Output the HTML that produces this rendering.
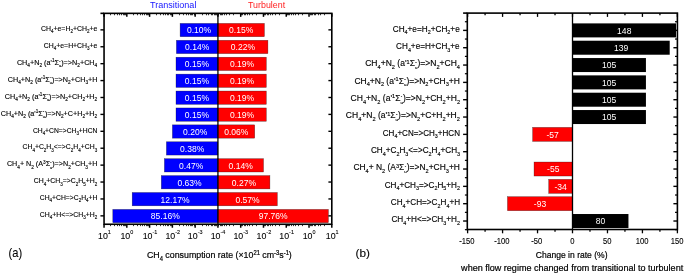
<!DOCTYPE html>
<html lang="en"><head><meta charset="utf-8"><title>CH4 consumption rate chart</title>
<style>html,body{margin:0;padding:0;background:#fff;}body{width:685px;height:274px;overflow:hidden;}svg{display:block;}text{font-family:'Liberation Sans', sans-serif;white-space:pre;}</style></head>
<body>
<svg width="685" height="274" viewBox="0 0 685 274">
<rect width="685" height="274" fill="#fff"/>
<g shape-rendering="auto">
<rect x="180.10" y="23.40" width="37.83" height="13.30" fill="#0000ff" stroke="#000" stroke-opacity="0.55" stroke-width="0.5"/>
<rect x="217.93" y="23.40" width="46.47" height="13.30" fill="#ff0000" stroke="#000" stroke-opacity="0.55" stroke-width="0.5"/>
<line x1="100.45" y1="29.85" x2="104.05" y2="29.85" stroke="#000" stroke-width="1.4" stroke-linecap="butt"/>
<line x1="328.40" y1="29.85" x2="331.80" y2="29.85" stroke="#000" stroke-width="1.4" stroke-linecap="butt"/>
<rect x="176.40" y="40.31" width="41.53" height="13.30" fill="#0000ff" stroke="#000" stroke-opacity="0.55" stroke-width="0.5"/>
<rect x="217.93" y="40.31" width="49.97" height="13.30" fill="#ff0000" stroke="#000" stroke-opacity="0.55" stroke-width="0.5"/>
<line x1="100.45" y1="46.76" x2="104.05" y2="46.76" stroke="#000" stroke-width="1.4" stroke-linecap="butt"/>
<line x1="328.40" y1="46.76" x2="331.80" y2="46.76" stroke="#000" stroke-width="1.4" stroke-linecap="butt"/>
<rect x="176.00" y="57.22" width="41.93" height="13.30" fill="#0000ff" stroke="#000" stroke-opacity="0.55" stroke-width="0.5"/>
<rect x="217.93" y="57.22" width="48.38" height="13.30" fill="#ff0000" stroke="#000" stroke-opacity="0.55" stroke-width="0.5"/>
<line x1="100.45" y1="63.67" x2="104.05" y2="63.67" stroke="#000" stroke-width="1.4" stroke-linecap="butt"/>
<line x1="328.40" y1="63.67" x2="331.80" y2="63.67" stroke="#000" stroke-width="1.4" stroke-linecap="butt"/>
<rect x="176.00" y="74.13" width="41.93" height="13.30" fill="#0000ff" stroke="#000" stroke-opacity="0.55" stroke-width="0.5"/>
<rect x="217.93" y="74.13" width="48.38" height="13.30" fill="#ff0000" stroke="#000" stroke-opacity="0.55" stroke-width="0.5"/>
<line x1="100.45" y1="80.58" x2="104.05" y2="80.58" stroke="#000" stroke-width="1.4" stroke-linecap="butt"/>
<line x1="328.40" y1="80.58" x2="331.80" y2="80.58" stroke="#000" stroke-width="1.4" stroke-linecap="butt"/>
<rect x="176.00" y="91.04" width="41.93" height="13.30" fill="#0000ff" stroke="#000" stroke-opacity="0.55" stroke-width="0.5"/>
<rect x="217.93" y="91.04" width="48.38" height="13.30" fill="#ff0000" stroke="#000" stroke-opacity="0.55" stroke-width="0.5"/>
<line x1="100.45" y1="97.49" x2="104.05" y2="97.49" stroke="#000" stroke-width="1.4" stroke-linecap="butt"/>
<line x1="328.40" y1="97.49" x2="331.80" y2="97.49" stroke="#000" stroke-width="1.4" stroke-linecap="butt"/>
<rect x="176.00" y="107.95" width="41.93" height="13.30" fill="#0000ff" stroke="#000" stroke-opacity="0.55" stroke-width="0.5"/>
<rect x="217.93" y="107.95" width="48.38" height="13.30" fill="#ff0000" stroke="#000" stroke-opacity="0.55" stroke-width="0.5"/>
<line x1="100.45" y1="114.40" x2="104.05" y2="114.40" stroke="#000" stroke-width="1.4" stroke-linecap="butt"/>
<line x1="328.40" y1="114.40" x2="331.80" y2="114.40" stroke="#000" stroke-width="1.4" stroke-linecap="butt"/>
<rect x="172.40" y="124.86" width="45.53" height="13.30" fill="#0000ff" stroke="#000" stroke-opacity="0.55" stroke-width="0.5"/>
<rect x="217.93" y="124.86" width="36.77" height="13.30" fill="#ff0000" stroke="#000" stroke-opacity="0.55" stroke-width="0.5"/>
<line x1="100.45" y1="131.31" x2="104.05" y2="131.31" stroke="#000" stroke-width="1.4" stroke-linecap="butt"/>
<line x1="328.40" y1="131.31" x2="331.80" y2="131.31" stroke="#000" stroke-width="1.4" stroke-linecap="butt"/>
<rect x="166.40" y="141.77" width="51.53" height="13.30" fill="#0000ff" stroke="#000" stroke-opacity="0.55" stroke-width="0.5"/>
<line x1="100.45" y1="148.22" x2="104.05" y2="148.22" stroke="#000" stroke-width="1.4" stroke-linecap="butt"/>
<line x1="328.40" y1="148.22" x2="331.80" y2="148.22" stroke="#000" stroke-width="1.4" stroke-linecap="butt"/>
<rect x="164.40" y="158.68" width="53.53" height="13.30" fill="#0000ff" stroke="#000" stroke-opacity="0.55" stroke-width="0.5"/>
<rect x="217.93" y="158.68" width="45.57" height="13.30" fill="#ff0000" stroke="#000" stroke-opacity="0.55" stroke-width="0.5"/>
<line x1="100.45" y1="165.13" x2="104.05" y2="165.13" stroke="#000" stroke-width="1.4" stroke-linecap="butt"/>
<line x1="328.40" y1="165.13" x2="331.80" y2="165.13" stroke="#000" stroke-width="1.4" stroke-linecap="butt"/>
<rect x="161.30" y="175.59" width="56.62" height="13.30" fill="#0000ff" stroke="#000" stroke-opacity="0.55" stroke-width="0.5"/>
<rect x="217.93" y="175.59" width="51.97" height="13.30" fill="#ff0000" stroke="#000" stroke-opacity="0.55" stroke-width="0.5"/>
<line x1="100.45" y1="182.04" x2="104.05" y2="182.04" stroke="#000" stroke-width="1.4" stroke-linecap="butt"/>
<line x1="328.40" y1="182.04" x2="331.80" y2="182.04" stroke="#000" stroke-width="1.4" stroke-linecap="butt"/>
<rect x="132.20" y="192.50" width="85.73" height="13.30" fill="#0000ff" stroke="#000" stroke-opacity="0.55" stroke-width="0.5"/>
<rect x="217.93" y="192.50" width="59.38" height="13.30" fill="#ff0000" stroke="#000" stroke-opacity="0.55" stroke-width="0.5"/>
<line x1="100.45" y1="198.95" x2="104.05" y2="198.95" stroke="#000" stroke-width="1.4" stroke-linecap="butt"/>
<line x1="328.40" y1="198.95" x2="331.80" y2="198.95" stroke="#000" stroke-width="1.4" stroke-linecap="butt"/>
<rect x="112.80" y="209.41" width="105.13" height="13.30" fill="#0000ff" stroke="#000" stroke-opacity="0.55" stroke-width="0.5"/>
<rect x="217.93" y="209.41" width="110.47" height="13.30" fill="#ff0000" stroke="#000" stroke-opacity="0.55" stroke-width="0.5"/>
<line x1="100.45" y1="215.86" x2="104.05" y2="215.86" stroke="#000" stroke-width="1.4" stroke-linecap="butt"/>
<line x1="328.40" y1="215.86" x2="331.80" y2="215.86" stroke="#000" stroke-width="1.4" stroke-linecap="butt"/>
<rect x="104.05" y="13.35" width="227.75" height="210.90" fill="none" stroke="#000" stroke-width="1.6"/>
<line x1="100.45" y1="13.35" x2="104.05" y2="13.35" stroke="#000" stroke-width="1.6" stroke-linecap="butt"/>
<line x1="217.93" y1="13.35" x2="217.93" y2="224.25" stroke="#000" stroke-width="1.3" stroke-linecap="butt"/>
<line x1="104.05" y1="224.25" x2="104.05" y2="227.75" stroke="#000" stroke-width="1.5" stroke-linecap="butt"/>
<line x1="104.05" y1="13.35" x2="104.05" y2="16.85" stroke="#000" stroke-width="1.5" stroke-linecap="butt"/>
<line x1="110.50" y1="224.25" x2="110.50" y2="226.15" stroke="#000" stroke-width="0.8" stroke-linecap="butt"/>
<line x1="110.50" y1="13.35" x2="110.50" y2="15.25" stroke="#000" stroke-width="0.8" stroke-linecap="butt"/>
<line x1="114.50" y1="224.25" x2="114.50" y2="226.15" stroke="#000" stroke-width="0.8" stroke-linecap="butt"/>
<line x1="114.50" y1="13.35" x2="114.50" y2="15.25" stroke="#000" stroke-width="0.8" stroke-linecap="butt"/>
<line x1="117.50" y1="224.25" x2="117.50" y2="226.15" stroke="#000" stroke-width="0.8" stroke-linecap="butt"/>
<line x1="117.50" y1="13.35" x2="117.50" y2="15.25" stroke="#000" stroke-width="0.8" stroke-linecap="butt"/>
<line x1="119.50" y1="224.25" x2="119.50" y2="226.15" stroke="#000" stroke-width="0.8" stroke-linecap="butt"/>
<line x1="119.50" y1="13.35" x2="119.50" y2="15.25" stroke="#000" stroke-width="0.8" stroke-linecap="butt"/>
<line x1="121.50" y1="224.25" x2="121.50" y2="226.15" stroke="#000" stroke-width="0.8" stroke-linecap="butt"/>
<line x1="121.50" y1="13.35" x2="121.50" y2="15.25" stroke="#000" stroke-width="0.8" stroke-linecap="butt"/>
<line x1="123.50" y1="224.25" x2="123.50" y2="226.15" stroke="#000" stroke-width="0.8" stroke-linecap="butt"/>
<line x1="123.50" y1="13.35" x2="123.50" y2="15.25" stroke="#000" stroke-width="0.8" stroke-linecap="butt"/>
<line x1="124.50" y1="224.25" x2="124.50" y2="226.15" stroke="#000" stroke-width="0.8" stroke-linecap="butt"/>
<line x1="124.50" y1="13.35" x2="124.50" y2="15.25" stroke="#000" stroke-width="0.8" stroke-linecap="butt"/>
<line x1="125.50" y1="224.25" x2="125.50" y2="226.15" stroke="#000" stroke-width="0.8" stroke-linecap="butt"/>
<line x1="125.50" y1="13.35" x2="125.50" y2="15.25" stroke="#000" stroke-width="0.8" stroke-linecap="butt"/>
<line x1="126.82" y1="224.25" x2="126.82" y2="227.75" stroke="#000" stroke-width="1.5" stroke-linecap="butt"/>
<line x1="126.82" y1="13.35" x2="126.82" y2="16.85" stroke="#000" stroke-width="1.5" stroke-linecap="butt"/>
<line x1="133.50" y1="224.25" x2="133.50" y2="226.15" stroke="#000" stroke-width="0.8" stroke-linecap="butt"/>
<line x1="133.50" y1="13.35" x2="133.50" y2="15.25" stroke="#000" stroke-width="0.8" stroke-linecap="butt"/>
<line x1="137.50" y1="224.25" x2="137.50" y2="226.15" stroke="#000" stroke-width="0.8" stroke-linecap="butt"/>
<line x1="137.50" y1="13.35" x2="137.50" y2="15.25" stroke="#000" stroke-width="0.8" stroke-linecap="butt"/>
<line x1="140.50" y1="224.25" x2="140.50" y2="226.15" stroke="#000" stroke-width="0.8" stroke-linecap="butt"/>
<line x1="140.50" y1="13.35" x2="140.50" y2="15.25" stroke="#000" stroke-width="0.8" stroke-linecap="butt"/>
<line x1="142.50" y1="224.25" x2="142.50" y2="226.15" stroke="#000" stroke-width="0.8" stroke-linecap="butt"/>
<line x1="142.50" y1="13.35" x2="142.50" y2="15.25" stroke="#000" stroke-width="0.8" stroke-linecap="butt"/>
<line x1="144.50" y1="224.25" x2="144.50" y2="226.15" stroke="#000" stroke-width="0.8" stroke-linecap="butt"/>
<line x1="144.50" y1="13.35" x2="144.50" y2="15.25" stroke="#000" stroke-width="0.8" stroke-linecap="butt"/>
<line x1="146.50" y1="224.25" x2="146.50" y2="226.15" stroke="#000" stroke-width="0.8" stroke-linecap="butt"/>
<line x1="146.50" y1="13.35" x2="146.50" y2="15.25" stroke="#000" stroke-width="0.8" stroke-linecap="butt"/>
<line x1="147.50" y1="224.25" x2="147.50" y2="226.15" stroke="#000" stroke-width="0.8" stroke-linecap="butt"/>
<line x1="147.50" y1="13.35" x2="147.50" y2="15.25" stroke="#000" stroke-width="0.8" stroke-linecap="butt"/>
<line x1="148.50" y1="224.25" x2="148.50" y2="226.15" stroke="#000" stroke-width="0.8" stroke-linecap="butt"/>
<line x1="148.50" y1="13.35" x2="148.50" y2="15.25" stroke="#000" stroke-width="0.8" stroke-linecap="butt"/>
<line x1="149.60" y1="224.25" x2="149.60" y2="227.75" stroke="#000" stroke-width="1.5" stroke-linecap="butt"/>
<line x1="149.60" y1="13.35" x2="149.60" y2="16.85" stroke="#000" stroke-width="1.5" stroke-linecap="butt"/>
<line x1="156.50" y1="224.25" x2="156.50" y2="226.15" stroke="#000" stroke-width="0.8" stroke-linecap="butt"/>
<line x1="156.50" y1="13.35" x2="156.50" y2="15.25" stroke="#000" stroke-width="0.8" stroke-linecap="butt"/>
<line x1="160.50" y1="224.25" x2="160.50" y2="226.15" stroke="#000" stroke-width="0.8" stroke-linecap="butt"/>
<line x1="160.50" y1="13.35" x2="160.50" y2="15.25" stroke="#000" stroke-width="0.8" stroke-linecap="butt"/>
<line x1="163.50" y1="224.25" x2="163.50" y2="226.15" stroke="#000" stroke-width="0.8" stroke-linecap="butt"/>
<line x1="163.50" y1="13.35" x2="163.50" y2="15.25" stroke="#000" stroke-width="0.8" stroke-linecap="butt"/>
<line x1="165.50" y1="224.25" x2="165.50" y2="226.15" stroke="#000" stroke-width="0.8" stroke-linecap="butt"/>
<line x1="165.50" y1="13.35" x2="165.50" y2="15.25" stroke="#000" stroke-width="0.8" stroke-linecap="butt"/>
<line x1="167.50" y1="224.25" x2="167.50" y2="226.15" stroke="#000" stroke-width="0.8" stroke-linecap="butt"/>
<line x1="167.50" y1="13.35" x2="167.50" y2="15.25" stroke="#000" stroke-width="0.8" stroke-linecap="butt"/>
<line x1="168.50" y1="224.25" x2="168.50" y2="226.15" stroke="#000" stroke-width="0.8" stroke-linecap="butt"/>
<line x1="168.50" y1="13.35" x2="168.50" y2="15.25" stroke="#000" stroke-width="0.8" stroke-linecap="butt"/>
<line x1="170.50" y1="224.25" x2="170.50" y2="226.15" stroke="#000" stroke-width="0.8" stroke-linecap="butt"/>
<line x1="170.50" y1="13.35" x2="170.50" y2="15.25" stroke="#000" stroke-width="0.8" stroke-linecap="butt"/>
<line x1="171.50" y1="224.25" x2="171.50" y2="226.15" stroke="#000" stroke-width="0.8" stroke-linecap="butt"/>
<line x1="171.50" y1="13.35" x2="171.50" y2="15.25" stroke="#000" stroke-width="0.8" stroke-linecap="butt"/>
<line x1="172.38" y1="224.25" x2="172.38" y2="227.75" stroke="#000" stroke-width="1.5" stroke-linecap="butt"/>
<line x1="172.38" y1="13.35" x2="172.38" y2="16.85" stroke="#000" stroke-width="1.5" stroke-linecap="butt"/>
<line x1="179.50" y1="224.25" x2="179.50" y2="226.15" stroke="#000" stroke-width="0.8" stroke-linecap="butt"/>
<line x1="179.50" y1="13.35" x2="179.50" y2="15.25" stroke="#000" stroke-width="0.8" stroke-linecap="butt"/>
<line x1="183.50" y1="224.25" x2="183.50" y2="226.15" stroke="#000" stroke-width="0.8" stroke-linecap="butt"/>
<line x1="183.50" y1="13.35" x2="183.50" y2="15.25" stroke="#000" stroke-width="0.8" stroke-linecap="butt"/>
<line x1="186.50" y1="224.25" x2="186.50" y2="226.15" stroke="#000" stroke-width="0.8" stroke-linecap="butt"/>
<line x1="186.50" y1="13.35" x2="186.50" y2="15.25" stroke="#000" stroke-width="0.8" stroke-linecap="butt"/>
<line x1="188.50" y1="224.25" x2="188.50" y2="226.15" stroke="#000" stroke-width="0.8" stroke-linecap="butt"/>
<line x1="188.50" y1="13.35" x2="188.50" y2="15.25" stroke="#000" stroke-width="0.8" stroke-linecap="butt"/>
<line x1="190.50" y1="224.25" x2="190.50" y2="226.15" stroke="#000" stroke-width="0.8" stroke-linecap="butt"/>
<line x1="190.50" y1="13.35" x2="190.50" y2="15.25" stroke="#000" stroke-width="0.8" stroke-linecap="butt"/>
<line x1="191.50" y1="224.25" x2="191.50" y2="226.15" stroke="#000" stroke-width="0.8" stroke-linecap="butt"/>
<line x1="191.50" y1="13.35" x2="191.50" y2="15.25" stroke="#000" stroke-width="0.8" stroke-linecap="butt"/>
<line x1="192.50" y1="224.25" x2="192.50" y2="226.15" stroke="#000" stroke-width="0.8" stroke-linecap="butt"/>
<line x1="192.50" y1="13.35" x2="192.50" y2="15.25" stroke="#000" stroke-width="0.8" stroke-linecap="butt"/>
<line x1="194.50" y1="224.25" x2="194.50" y2="226.15" stroke="#000" stroke-width="0.8" stroke-linecap="butt"/>
<line x1="194.50" y1="13.35" x2="194.50" y2="15.25" stroke="#000" stroke-width="0.8" stroke-linecap="butt"/>
<line x1="195.15" y1="224.25" x2="195.15" y2="227.75" stroke="#000" stroke-width="1.5" stroke-linecap="butt"/>
<line x1="195.15" y1="13.35" x2="195.15" y2="16.85" stroke="#000" stroke-width="1.5" stroke-linecap="butt"/>
<line x1="202.50" y1="224.25" x2="202.50" y2="226.15" stroke="#000" stroke-width="0.8" stroke-linecap="butt"/>
<line x1="202.50" y1="13.35" x2="202.50" y2="15.25" stroke="#000" stroke-width="0.8" stroke-linecap="butt"/>
<line x1="206.50" y1="224.25" x2="206.50" y2="226.15" stroke="#000" stroke-width="0.8" stroke-linecap="butt"/>
<line x1="206.50" y1="13.35" x2="206.50" y2="15.25" stroke="#000" stroke-width="0.8" stroke-linecap="butt"/>
<line x1="208.50" y1="224.25" x2="208.50" y2="226.15" stroke="#000" stroke-width="0.8" stroke-linecap="butt"/>
<line x1="208.50" y1="13.35" x2="208.50" y2="15.25" stroke="#000" stroke-width="0.8" stroke-linecap="butt"/>
<line x1="211.50" y1="224.25" x2="211.50" y2="226.15" stroke="#000" stroke-width="0.8" stroke-linecap="butt"/>
<line x1="211.50" y1="13.35" x2="211.50" y2="15.25" stroke="#000" stroke-width="0.8" stroke-linecap="butt"/>
<line x1="212.50" y1="224.25" x2="212.50" y2="226.15" stroke="#000" stroke-width="0.8" stroke-linecap="butt"/>
<line x1="212.50" y1="13.35" x2="212.50" y2="15.25" stroke="#000" stroke-width="0.8" stroke-linecap="butt"/>
<line x1="214.50" y1="224.25" x2="214.50" y2="226.15" stroke="#000" stroke-width="0.8" stroke-linecap="butt"/>
<line x1="214.50" y1="13.35" x2="214.50" y2="15.25" stroke="#000" stroke-width="0.8" stroke-linecap="butt"/>
<line x1="215.50" y1="224.25" x2="215.50" y2="226.15" stroke="#000" stroke-width="0.8" stroke-linecap="butt"/>
<line x1="215.50" y1="13.35" x2="215.50" y2="15.25" stroke="#000" stroke-width="0.8" stroke-linecap="butt"/>
<line x1="216.50" y1="224.25" x2="216.50" y2="226.15" stroke="#000" stroke-width="0.8" stroke-linecap="butt"/>
<line x1="216.50" y1="13.35" x2="216.50" y2="15.25" stroke="#000" stroke-width="0.8" stroke-linecap="butt"/>
<line x1="217.93" y1="224.25" x2="217.93" y2="227.75" stroke="#000" stroke-width="1.5" stroke-linecap="butt"/>
<line x1="217.93" y1="13.35" x2="217.93" y2="16.85" stroke="#000" stroke-width="1.5" stroke-linecap="butt"/>
<line x1="233.50" y1="224.25" x2="233.50" y2="226.15" stroke="#000" stroke-width="0.8" stroke-linecap="butt"/>
<line x1="233.50" y1="13.35" x2="233.50" y2="15.25" stroke="#000" stroke-width="0.8" stroke-linecap="butt"/>
<line x1="229.50" y1="224.25" x2="229.50" y2="226.15" stroke="#000" stroke-width="0.8" stroke-linecap="butt"/>
<line x1="229.50" y1="13.35" x2="229.50" y2="15.25" stroke="#000" stroke-width="0.8" stroke-linecap="butt"/>
<line x1="226.50" y1="224.25" x2="226.50" y2="226.15" stroke="#000" stroke-width="0.8" stroke-linecap="butt"/>
<line x1="226.50" y1="13.35" x2="226.50" y2="15.25" stroke="#000" stroke-width="0.8" stroke-linecap="butt"/>
<line x1="224.50" y1="224.25" x2="224.50" y2="226.15" stroke="#000" stroke-width="0.8" stroke-linecap="butt"/>
<line x1="224.50" y1="13.35" x2="224.50" y2="15.25" stroke="#000" stroke-width="0.8" stroke-linecap="butt"/>
<line x1="222.50" y1="224.25" x2="222.50" y2="226.15" stroke="#000" stroke-width="0.8" stroke-linecap="butt"/>
<line x1="222.50" y1="13.35" x2="222.50" y2="15.25" stroke="#000" stroke-width="0.8" stroke-linecap="butt"/>
<line x1="221.50" y1="224.25" x2="221.50" y2="226.15" stroke="#000" stroke-width="0.8" stroke-linecap="butt"/>
<line x1="221.50" y1="13.35" x2="221.50" y2="15.25" stroke="#000" stroke-width="0.8" stroke-linecap="butt"/>
<line x1="220.50" y1="224.25" x2="220.50" y2="226.15" stroke="#000" stroke-width="0.8" stroke-linecap="butt"/>
<line x1="220.50" y1="13.35" x2="220.50" y2="15.25" stroke="#000" stroke-width="0.8" stroke-linecap="butt"/>
<line x1="218.50" y1="224.25" x2="218.50" y2="226.15" stroke="#000" stroke-width="0.8" stroke-linecap="butt"/>
<line x1="218.50" y1="13.35" x2="218.50" y2="15.25" stroke="#000" stroke-width="0.8" stroke-linecap="butt"/>
<line x1="240.70" y1="224.25" x2="240.70" y2="227.75" stroke="#000" stroke-width="1.5" stroke-linecap="butt"/>
<line x1="240.70" y1="13.35" x2="240.70" y2="16.85" stroke="#000" stroke-width="1.5" stroke-linecap="butt"/>
<line x1="256.50" y1="224.25" x2="256.50" y2="226.15" stroke="#000" stroke-width="0.8" stroke-linecap="butt"/>
<line x1="256.50" y1="13.35" x2="256.50" y2="15.25" stroke="#000" stroke-width="0.8" stroke-linecap="butt"/>
<line x1="252.50" y1="224.25" x2="252.50" y2="226.15" stroke="#000" stroke-width="0.8" stroke-linecap="butt"/>
<line x1="252.50" y1="13.35" x2="252.50" y2="15.25" stroke="#000" stroke-width="0.8" stroke-linecap="butt"/>
<line x1="249.50" y1="224.25" x2="249.50" y2="226.15" stroke="#000" stroke-width="0.8" stroke-linecap="butt"/>
<line x1="249.50" y1="13.35" x2="249.50" y2="15.25" stroke="#000" stroke-width="0.8" stroke-linecap="butt"/>
<line x1="247.50" y1="224.25" x2="247.50" y2="226.15" stroke="#000" stroke-width="0.8" stroke-linecap="butt"/>
<line x1="247.50" y1="13.35" x2="247.50" y2="15.25" stroke="#000" stroke-width="0.8" stroke-linecap="butt"/>
<line x1="245.50" y1="224.25" x2="245.50" y2="226.15" stroke="#000" stroke-width="0.8" stroke-linecap="butt"/>
<line x1="245.50" y1="13.35" x2="245.50" y2="15.25" stroke="#000" stroke-width="0.8" stroke-linecap="butt"/>
<line x1="244.50" y1="224.25" x2="244.50" y2="226.15" stroke="#000" stroke-width="0.8" stroke-linecap="butt"/>
<line x1="244.50" y1="13.35" x2="244.50" y2="15.25" stroke="#000" stroke-width="0.8" stroke-linecap="butt"/>
<line x1="242.50" y1="224.25" x2="242.50" y2="226.15" stroke="#000" stroke-width="0.8" stroke-linecap="butt"/>
<line x1="242.50" y1="13.35" x2="242.50" y2="15.25" stroke="#000" stroke-width="0.8" stroke-linecap="butt"/>
<line x1="241.50" y1="224.25" x2="241.50" y2="226.15" stroke="#000" stroke-width="0.8" stroke-linecap="butt"/>
<line x1="241.50" y1="13.35" x2="241.50" y2="15.25" stroke="#000" stroke-width="0.8" stroke-linecap="butt"/>
<line x1="263.47" y1="224.25" x2="263.47" y2="227.75" stroke="#000" stroke-width="1.5" stroke-linecap="butt"/>
<line x1="263.47" y1="13.35" x2="263.47" y2="16.85" stroke="#000" stroke-width="1.5" stroke-linecap="butt"/>
<line x1="279.50" y1="224.25" x2="279.50" y2="226.15" stroke="#000" stroke-width="0.8" stroke-linecap="butt"/>
<line x1="279.50" y1="13.35" x2="279.50" y2="15.25" stroke="#000" stroke-width="0.8" stroke-linecap="butt"/>
<line x1="275.50" y1="224.25" x2="275.50" y2="226.15" stroke="#000" stroke-width="0.8" stroke-linecap="butt"/>
<line x1="275.50" y1="13.35" x2="275.50" y2="15.25" stroke="#000" stroke-width="0.8" stroke-linecap="butt"/>
<line x1="272.50" y1="224.25" x2="272.50" y2="226.15" stroke="#000" stroke-width="0.8" stroke-linecap="butt"/>
<line x1="272.50" y1="13.35" x2="272.50" y2="15.25" stroke="#000" stroke-width="0.8" stroke-linecap="butt"/>
<line x1="270.50" y1="224.25" x2="270.50" y2="226.15" stroke="#000" stroke-width="0.8" stroke-linecap="butt"/>
<line x1="270.50" y1="13.35" x2="270.50" y2="15.25" stroke="#000" stroke-width="0.8" stroke-linecap="butt"/>
<line x1="268.50" y1="224.25" x2="268.50" y2="226.15" stroke="#000" stroke-width="0.8" stroke-linecap="butt"/>
<line x1="268.50" y1="13.35" x2="268.50" y2="15.25" stroke="#000" stroke-width="0.8" stroke-linecap="butt"/>
<line x1="267.50" y1="224.25" x2="267.50" y2="226.15" stroke="#000" stroke-width="0.8" stroke-linecap="butt"/>
<line x1="267.50" y1="13.35" x2="267.50" y2="15.25" stroke="#000" stroke-width="0.8" stroke-linecap="butt"/>
<line x1="265.50" y1="224.25" x2="265.50" y2="226.15" stroke="#000" stroke-width="0.8" stroke-linecap="butt"/>
<line x1="265.50" y1="13.35" x2="265.50" y2="15.25" stroke="#000" stroke-width="0.8" stroke-linecap="butt"/>
<line x1="264.50" y1="224.25" x2="264.50" y2="226.15" stroke="#000" stroke-width="0.8" stroke-linecap="butt"/>
<line x1="264.50" y1="13.35" x2="264.50" y2="15.25" stroke="#000" stroke-width="0.8" stroke-linecap="butt"/>
<line x1="286.25" y1="224.25" x2="286.25" y2="227.75" stroke="#000" stroke-width="1.5" stroke-linecap="butt"/>
<line x1="286.25" y1="13.35" x2="286.25" y2="16.85" stroke="#000" stroke-width="1.5" stroke-linecap="butt"/>
<line x1="302.50" y1="224.25" x2="302.50" y2="226.15" stroke="#000" stroke-width="0.8" stroke-linecap="butt"/>
<line x1="302.50" y1="13.35" x2="302.50" y2="15.25" stroke="#000" stroke-width="0.8" stroke-linecap="butt"/>
<line x1="298.50" y1="224.25" x2="298.50" y2="226.15" stroke="#000" stroke-width="0.8" stroke-linecap="butt"/>
<line x1="298.50" y1="13.35" x2="298.50" y2="15.25" stroke="#000" stroke-width="0.8" stroke-linecap="butt"/>
<line x1="295.50" y1="224.25" x2="295.50" y2="226.15" stroke="#000" stroke-width="0.8" stroke-linecap="butt"/>
<line x1="295.50" y1="13.35" x2="295.50" y2="15.25" stroke="#000" stroke-width="0.8" stroke-linecap="butt"/>
<line x1="293.50" y1="224.25" x2="293.50" y2="226.15" stroke="#000" stroke-width="0.8" stroke-linecap="butt"/>
<line x1="293.50" y1="13.35" x2="293.50" y2="15.25" stroke="#000" stroke-width="0.8" stroke-linecap="butt"/>
<line x1="291.50" y1="224.25" x2="291.50" y2="226.15" stroke="#000" stroke-width="0.8" stroke-linecap="butt"/>
<line x1="291.50" y1="13.35" x2="291.50" y2="15.25" stroke="#000" stroke-width="0.8" stroke-linecap="butt"/>
<line x1="289.50" y1="224.25" x2="289.50" y2="226.15" stroke="#000" stroke-width="0.8" stroke-linecap="butt"/>
<line x1="289.50" y1="13.35" x2="289.50" y2="15.25" stroke="#000" stroke-width="0.8" stroke-linecap="butt"/>
<line x1="288.50" y1="224.25" x2="288.50" y2="226.15" stroke="#000" stroke-width="0.8" stroke-linecap="butt"/>
<line x1="288.50" y1="13.35" x2="288.50" y2="15.25" stroke="#000" stroke-width="0.8" stroke-linecap="butt"/>
<line x1="287.50" y1="224.25" x2="287.50" y2="226.15" stroke="#000" stroke-width="0.8" stroke-linecap="butt"/>
<line x1="287.50" y1="13.35" x2="287.50" y2="15.25" stroke="#000" stroke-width="0.8" stroke-linecap="butt"/>
<line x1="309.02" y1="224.25" x2="309.02" y2="227.75" stroke="#000" stroke-width="1.5" stroke-linecap="butt"/>
<line x1="309.02" y1="13.35" x2="309.02" y2="16.85" stroke="#000" stroke-width="1.5" stroke-linecap="butt"/>
<line x1="324.50" y1="224.25" x2="324.50" y2="226.15" stroke="#000" stroke-width="0.8" stroke-linecap="butt"/>
<line x1="324.50" y1="13.35" x2="324.50" y2="15.25" stroke="#000" stroke-width="0.8" stroke-linecap="butt"/>
<line x1="320.50" y1="224.25" x2="320.50" y2="226.15" stroke="#000" stroke-width="0.8" stroke-linecap="butt"/>
<line x1="320.50" y1="13.35" x2="320.50" y2="15.25" stroke="#000" stroke-width="0.8" stroke-linecap="butt"/>
<line x1="318.50" y1="224.25" x2="318.50" y2="226.15" stroke="#000" stroke-width="0.8" stroke-linecap="butt"/>
<line x1="318.50" y1="13.35" x2="318.50" y2="15.25" stroke="#000" stroke-width="0.8" stroke-linecap="butt"/>
<line x1="315.50" y1="224.25" x2="315.50" y2="226.15" stroke="#000" stroke-width="0.8" stroke-linecap="butt"/>
<line x1="315.50" y1="13.35" x2="315.50" y2="15.25" stroke="#000" stroke-width="0.8" stroke-linecap="butt"/>
<line x1="314.50" y1="224.25" x2="314.50" y2="226.15" stroke="#000" stroke-width="0.8" stroke-linecap="butt"/>
<line x1="314.50" y1="13.35" x2="314.50" y2="15.25" stroke="#000" stroke-width="0.8" stroke-linecap="butt"/>
<line x1="312.50" y1="224.25" x2="312.50" y2="226.15" stroke="#000" stroke-width="0.8" stroke-linecap="butt"/>
<line x1="312.50" y1="13.35" x2="312.50" y2="15.25" stroke="#000" stroke-width="0.8" stroke-linecap="butt"/>
<line x1="311.50" y1="224.25" x2="311.50" y2="226.15" stroke="#000" stroke-width="0.8" stroke-linecap="butt"/>
<line x1="311.50" y1="13.35" x2="311.50" y2="15.25" stroke="#000" stroke-width="0.8" stroke-linecap="butt"/>
<line x1="310.50" y1="224.25" x2="310.50" y2="226.15" stroke="#000" stroke-width="0.8" stroke-linecap="butt"/>
<line x1="310.50" y1="13.35" x2="310.50" y2="15.25" stroke="#000" stroke-width="0.8" stroke-linecap="butt"/>
<line x1="331.80" y1="224.25" x2="331.80" y2="227.75" stroke="#000" stroke-width="1.5" stroke-linecap="butt"/>
<line x1="331.80" y1="13.35" x2="331.80" y2="16.85" stroke="#000" stroke-width="1.5" stroke-linecap="butt"/>
<rect x="572.50" y="23.39" width="103.50" height="14.00" fill="#000"/>
<line x1="463.10" y1="30.39" x2="467.30" y2="30.39" stroke="#000" stroke-width="1.4" stroke-linecap="butt"/>
<line x1="673.40" y1="30.39" x2="677.40" y2="30.39" stroke="#000" stroke-width="1.4" stroke-linecap="butt"/>
<rect x="572.50" y="40.72" width="97.21" height="14.00" fill="#000"/>
<line x1="463.10" y1="47.72" x2="467.30" y2="47.72" stroke="#000" stroke-width="1.4" stroke-linecap="butt"/>
<line x1="673.40" y1="47.72" x2="677.40" y2="47.72" stroke="#000" stroke-width="1.4" stroke-linecap="butt"/>
<rect x="572.50" y="58.05" width="73.43" height="14.00" fill="#000"/>
<line x1="463.10" y1="65.05" x2="467.30" y2="65.05" stroke="#000" stroke-width="1.4" stroke-linecap="butt"/>
<line x1="673.40" y1="65.05" x2="677.40" y2="65.05" stroke="#000" stroke-width="1.4" stroke-linecap="butt"/>
<rect x="572.50" y="75.38" width="73.43" height="14.00" fill="#000"/>
<line x1="463.10" y1="82.38" x2="467.30" y2="82.38" stroke="#000" stroke-width="1.4" stroke-linecap="butt"/>
<line x1="673.40" y1="82.38" x2="677.40" y2="82.38" stroke="#000" stroke-width="1.4" stroke-linecap="butt"/>
<rect x="572.50" y="92.71" width="73.43" height="14.00" fill="#000"/>
<line x1="463.10" y1="99.71" x2="467.30" y2="99.71" stroke="#000" stroke-width="1.4" stroke-linecap="butt"/>
<line x1="673.40" y1="99.71" x2="677.40" y2="99.71" stroke="#000" stroke-width="1.4" stroke-linecap="butt"/>
<rect x="572.50" y="110.04" width="73.43" height="14.00" fill="#000"/>
<line x1="463.10" y1="117.04" x2="467.30" y2="117.04" stroke="#000" stroke-width="1.4" stroke-linecap="butt"/>
<line x1="673.40" y1="117.04" x2="677.40" y2="117.04" stroke="#000" stroke-width="1.4" stroke-linecap="butt"/>
<rect x="532.64" y="127.37" width="39.86" height="14.00" fill="#ff0000" stroke="#000" stroke-opacity="0.55" stroke-width="0.5"/>
<line x1="463.10" y1="134.37" x2="467.30" y2="134.37" stroke="#000" stroke-width="1.4" stroke-linecap="butt"/>
<line x1="673.40" y1="134.37" x2="677.40" y2="134.37" stroke="#000" stroke-width="1.4" stroke-linecap="butt"/>
<line x1="463.10" y1="151.70" x2="467.30" y2="151.70" stroke="#000" stroke-width="1.4" stroke-linecap="butt"/>
<line x1="673.40" y1="151.70" x2="677.40" y2="151.70" stroke="#000" stroke-width="1.4" stroke-linecap="butt"/>
<rect x="534.04" y="162.03" width="38.46" height="14.00" fill="#ff0000" stroke="#000" stroke-opacity="0.55" stroke-width="0.5"/>
<line x1="463.10" y1="169.03" x2="467.30" y2="169.03" stroke="#000" stroke-width="1.4" stroke-linecap="butt"/>
<line x1="673.40" y1="169.03" x2="677.40" y2="169.03" stroke="#000" stroke-width="1.4" stroke-linecap="butt"/>
<rect x="548.72" y="179.36" width="23.78" height="14.00" fill="#ff0000" stroke="#000" stroke-opacity="0.55" stroke-width="0.5"/>
<line x1="463.10" y1="186.36" x2="467.30" y2="186.36" stroke="#000" stroke-width="1.4" stroke-linecap="butt"/>
<line x1="673.40" y1="186.36" x2="677.40" y2="186.36" stroke="#000" stroke-width="1.4" stroke-linecap="butt"/>
<rect x="507.46" y="196.69" width="65.04" height="14.00" fill="#ff0000" stroke="#000" stroke-opacity="0.55" stroke-width="0.5"/>
<line x1="463.10" y1="203.69" x2="467.30" y2="203.69" stroke="#000" stroke-width="1.4" stroke-linecap="butt"/>
<line x1="673.40" y1="203.69" x2="677.40" y2="203.69" stroke="#000" stroke-width="1.4" stroke-linecap="butt"/>
<rect x="572.50" y="214.02" width="55.95" height="14.00" fill="#000"/>
<line x1="463.10" y1="221.02" x2="467.30" y2="221.02" stroke="#000" stroke-width="1.4" stroke-linecap="butt"/>
<line x1="673.40" y1="221.02" x2="677.40" y2="221.02" stroke="#000" stroke-width="1.4" stroke-linecap="butt"/>
<line x1="464.90" y1="21.73" x2="467.30" y2="21.73" stroke="#000" stroke-width="1.2" stroke-linecap="butt"/>
<line x1="675.00" y1="21.73" x2="677.40" y2="21.73" stroke="#000" stroke-width="1.2" stroke-linecap="butt"/>
<line x1="464.90" y1="39.05" x2="467.30" y2="39.05" stroke="#000" stroke-width="1.2" stroke-linecap="butt"/>
<line x1="675.00" y1="39.05" x2="677.40" y2="39.05" stroke="#000" stroke-width="1.2" stroke-linecap="butt"/>
<line x1="464.90" y1="56.38" x2="467.30" y2="56.38" stroke="#000" stroke-width="1.2" stroke-linecap="butt"/>
<line x1="675.00" y1="56.38" x2="677.40" y2="56.38" stroke="#000" stroke-width="1.2" stroke-linecap="butt"/>
<line x1="464.90" y1="73.72" x2="467.30" y2="73.72" stroke="#000" stroke-width="1.2" stroke-linecap="butt"/>
<line x1="675.00" y1="73.72" x2="677.40" y2="73.72" stroke="#000" stroke-width="1.2" stroke-linecap="butt"/>
<line x1="464.90" y1="91.04" x2="467.30" y2="91.04" stroke="#000" stroke-width="1.2" stroke-linecap="butt"/>
<line x1="675.00" y1="91.04" x2="677.40" y2="91.04" stroke="#000" stroke-width="1.2" stroke-linecap="butt"/>
<line x1="464.90" y1="108.38" x2="467.30" y2="108.38" stroke="#000" stroke-width="1.2" stroke-linecap="butt"/>
<line x1="675.00" y1="108.38" x2="677.40" y2="108.38" stroke="#000" stroke-width="1.2" stroke-linecap="butt"/>
<line x1="464.90" y1="125.70" x2="467.30" y2="125.70" stroke="#000" stroke-width="1.2" stroke-linecap="butt"/>
<line x1="675.00" y1="125.70" x2="677.40" y2="125.70" stroke="#000" stroke-width="1.2" stroke-linecap="butt"/>
<line x1="464.90" y1="143.03" x2="467.30" y2="143.03" stroke="#000" stroke-width="1.2" stroke-linecap="butt"/>
<line x1="675.00" y1="143.03" x2="677.40" y2="143.03" stroke="#000" stroke-width="1.2" stroke-linecap="butt"/>
<line x1="464.90" y1="160.36" x2="467.30" y2="160.36" stroke="#000" stroke-width="1.2" stroke-linecap="butt"/>
<line x1="675.00" y1="160.36" x2="677.40" y2="160.36" stroke="#000" stroke-width="1.2" stroke-linecap="butt"/>
<line x1="464.90" y1="177.69" x2="467.30" y2="177.69" stroke="#000" stroke-width="1.2" stroke-linecap="butt"/>
<line x1="675.00" y1="177.69" x2="677.40" y2="177.69" stroke="#000" stroke-width="1.2" stroke-linecap="butt"/>
<line x1="464.90" y1="195.02" x2="467.30" y2="195.02" stroke="#000" stroke-width="1.2" stroke-linecap="butt"/>
<line x1="675.00" y1="195.02" x2="677.40" y2="195.02" stroke="#000" stroke-width="1.2" stroke-linecap="butt"/>
<line x1="464.90" y1="212.35" x2="467.30" y2="212.35" stroke="#000" stroke-width="1.2" stroke-linecap="butt"/>
<line x1="675.00" y1="212.35" x2="677.40" y2="212.35" stroke="#000" stroke-width="1.2" stroke-linecap="butt"/>
<line x1="464.90" y1="229.68" x2="467.30" y2="229.68" stroke="#000" stroke-width="1.2" stroke-linecap="butt"/>
<line x1="675.00" y1="229.68" x2="677.40" y2="229.68" stroke="#000" stroke-width="1.2" stroke-linecap="butt"/>
<rect x="467.30" y="13.10" width="210.10" height="216.40" fill="none" stroke="#000" stroke-width="1.6"/>
<line x1="463.10" y1="13.10" x2="467.30" y2="13.10" stroke="#000" stroke-width="1.6" stroke-linecap="butt"/>
<line x1="572.50" y1="13.10" x2="572.50" y2="229.50" stroke="#000" stroke-width="1.3" stroke-linecap="butt"/>
<line x1="467.60" y1="229.50" x2="467.60" y2="233.30" stroke="#000" stroke-width="1.3" stroke-linecap="butt"/>
<line x1="467.60" y1="13.10" x2="467.60" y2="16.90" stroke="#000" stroke-width="1.3" stroke-linecap="butt"/>
<line x1="485.08" y1="229.50" x2="485.08" y2="231.70" stroke="#000" stroke-width="1.3" stroke-linecap="butt"/>
<line x1="485.08" y1="13.10" x2="485.08" y2="15.30" stroke="#000" stroke-width="1.3" stroke-linecap="butt"/>
<line x1="502.57" y1="229.50" x2="502.57" y2="233.30" stroke="#000" stroke-width="1.3" stroke-linecap="butt"/>
<line x1="502.57" y1="13.10" x2="502.57" y2="16.90" stroke="#000" stroke-width="1.3" stroke-linecap="butt"/>
<line x1="520.05" y1="229.50" x2="520.05" y2="231.70" stroke="#000" stroke-width="1.3" stroke-linecap="butt"/>
<line x1="520.05" y1="13.10" x2="520.05" y2="15.30" stroke="#000" stroke-width="1.3" stroke-linecap="butt"/>
<line x1="537.53" y1="229.50" x2="537.53" y2="233.30" stroke="#000" stroke-width="1.3" stroke-linecap="butt"/>
<line x1="537.53" y1="13.10" x2="537.53" y2="16.90" stroke="#000" stroke-width="1.3" stroke-linecap="butt"/>
<line x1="555.02" y1="229.50" x2="555.02" y2="231.70" stroke="#000" stroke-width="1.3" stroke-linecap="butt"/>
<line x1="555.02" y1="13.10" x2="555.02" y2="15.30" stroke="#000" stroke-width="1.3" stroke-linecap="butt"/>
<line x1="572.50" y1="229.50" x2="572.50" y2="233.30" stroke="#000" stroke-width="1.3" stroke-linecap="butt"/>
<line x1="572.50" y1="13.10" x2="572.50" y2="16.90" stroke="#000" stroke-width="1.3" stroke-linecap="butt"/>
<line x1="589.98" y1="229.50" x2="589.98" y2="231.70" stroke="#000" stroke-width="1.3" stroke-linecap="butt"/>
<line x1="589.98" y1="13.10" x2="589.98" y2="15.30" stroke="#000" stroke-width="1.3" stroke-linecap="butt"/>
<line x1="607.47" y1="229.50" x2="607.47" y2="233.30" stroke="#000" stroke-width="1.3" stroke-linecap="butt"/>
<line x1="607.47" y1="13.10" x2="607.47" y2="16.90" stroke="#000" stroke-width="1.3" stroke-linecap="butt"/>
<line x1="624.95" y1="229.50" x2="624.95" y2="231.70" stroke="#000" stroke-width="1.3" stroke-linecap="butt"/>
<line x1="624.95" y1="13.10" x2="624.95" y2="15.30" stroke="#000" stroke-width="1.3" stroke-linecap="butt"/>
<line x1="642.43" y1="229.50" x2="642.43" y2="233.30" stroke="#000" stroke-width="1.3" stroke-linecap="butt"/>
<line x1="642.43" y1="13.10" x2="642.43" y2="16.90" stroke="#000" stroke-width="1.3" stroke-linecap="butt"/>
<line x1="659.92" y1="229.50" x2="659.92" y2="231.70" stroke="#000" stroke-width="1.3" stroke-linecap="butt"/>
<line x1="659.92" y1="13.10" x2="659.92" y2="15.30" stroke="#000" stroke-width="1.3" stroke-linecap="butt"/>
<line x1="677.40" y1="229.50" x2="677.40" y2="233.30" stroke="#000" stroke-width="1.3" stroke-linecap="butt"/>
<line x1="677.40" y1="13.10" x2="677.40" y2="16.90" stroke="#000" stroke-width="1.3" stroke-linecap="butt"/>
</g>
<text transform="translate(186.89 33.45) scale(0.9500 1)" font-size="9.0" fill="#fff" stroke="#fff" stroke-width="0" xml:space="preserve">0.10%</text>
<text transform="translate(229.04 33.45) scale(0.9500 1)" font-size="9.0" fill="#fff" stroke="#fff" stroke-width="0" xml:space="preserve">0.15%</text>
<text transform="translate(40.95 31.10) scale(0.9235 1)" font-size="7.5" fill="#000" stroke="#000" stroke-width="0.13" xml:space="preserve">CH<tspan dy="2.25" font-size="4.95">4</tspan><tspan dy="-2.25">+e=H</tspan><tspan dy="2.25" font-size="4.95">2</tspan><tspan dy="-2.25">+CH</tspan><tspan dy="2.25" font-size="4.95">2</tspan><tspan dy="-2.25">+e</tspan></text>
<text transform="translate(185.04 50.36) scale(0.9500 1)" font-size="9.0" fill="#fff" stroke="#fff" stroke-width="0" xml:space="preserve">0.14%</text>
<text transform="translate(230.79 50.36) scale(0.9500 1)" font-size="9.0" fill="#fff" stroke="#fff" stroke-width="0" xml:space="preserve">0.22%</text>
<text transform="translate(43.80 48.01) scale(0.9184 1)" font-size="7.5" fill="#000" stroke="#000" stroke-width="0.13" xml:space="preserve">CH<tspan dy="2.25" font-size="4.95">4</tspan><tspan dy="-2.25">+e=H+CH</tspan><tspan dy="2.25" font-size="4.95">3</tspan><tspan dy="-2.25">+e</tspan></text>
<text transform="translate(184.84 67.27) scale(0.9500 1)" font-size="9.0" fill="#fff" stroke="#fff" stroke-width="0" xml:space="preserve">0.15%</text>
<text transform="translate(229.99 67.27) scale(0.9500 1)" font-size="9.0" fill="#fff" stroke="#fff" stroke-width="0" xml:space="preserve">0.19%</text>
<text transform="translate(16.90 64.92) scale(0.9641 1)" font-size="7.5" fill="#000" stroke="#000" stroke-width="0.13" xml:space="preserve">CH<tspan dy="2.25" font-size="4.95">4</tspan><tspan dy="-2.25">+N</tspan><tspan dy="2.25" font-size="4.95">2</tspan><tspan dy="-2.25"> (a'</tspan><tspan dy="-2.48" font-size="4.95">1</tspan><tspan dy="2.48">Σ</tspan><tspan dy="2.25" font-size="3.90">u</tspan><tspan dx="-1.87" dy="-5.62" font-size="3.90">-</tspan><tspan dy="3.38"> )=&gt;N</tspan><tspan dy="2.25" font-size="4.95">2</tspan><tspan dy="-2.25">+CH</tspan><tspan dy="2.25" font-size="4.95">4</tspan></text>
<text transform="translate(184.84 84.18) scale(0.9500 1)" font-size="9.0" fill="#fff" stroke="#fff" stroke-width="0" xml:space="preserve">0.15%</text>
<text transform="translate(229.99 84.18) scale(0.9500 1)" font-size="9.0" fill="#fff" stroke="#fff" stroke-width="0" xml:space="preserve">0.19%</text>
<text transform="translate(7.70 81.83) scale(0.9641 1)" font-size="7.5" fill="#000" stroke="#000" stroke-width="0.13" xml:space="preserve">CH<tspan dy="2.25" font-size="4.95">4</tspan><tspan dy="-2.25">+N</tspan><tspan dy="2.25" font-size="4.95">2</tspan><tspan dy="-2.25"> (a'</tspan><tspan dy="-2.48" font-size="4.95">1</tspan><tspan dy="2.48">Σ</tspan><tspan dy="2.25" font-size="3.90">u</tspan><tspan dx="-1.87" dy="-5.62" font-size="3.90">-</tspan><tspan dy="3.38"> )=&gt;N</tspan><tspan dy="2.25" font-size="4.95">2</tspan><tspan dy="-2.25">+CH</tspan><tspan dy="2.25" font-size="4.95">3</tspan><tspan dy="-2.25">+H</tspan></text>
<text transform="translate(184.84 101.09) scale(0.9500 1)" font-size="9.0" fill="#fff" stroke="#fff" stroke-width="0" xml:space="preserve">0.15%</text>
<text transform="translate(229.99 101.09) scale(0.9500 1)" font-size="9.0" fill="#fff" stroke="#fff" stroke-width="0" xml:space="preserve">0.19%</text>
<text transform="translate(4.80 98.74) scale(0.9642 1)" font-size="7.5" fill="#000" stroke="#000" stroke-width="0.13" xml:space="preserve">CH<tspan dy="2.25" font-size="4.95">4</tspan><tspan dy="-2.25">+N</tspan><tspan dy="2.25" font-size="4.95">2</tspan><tspan dy="-2.25"> (a'</tspan><tspan dy="-2.48" font-size="4.95">1</tspan><tspan dy="2.48">Σ</tspan><tspan dy="2.25" font-size="3.90">u</tspan><tspan dx="-1.87" dy="-5.62" font-size="3.90">-</tspan><tspan dy="3.38"> )=&gt;N</tspan><tspan dy="2.25" font-size="4.95">2</tspan><tspan dy="-2.25">+CH</tspan><tspan dy="2.25" font-size="4.95">2</tspan><tspan dy="-2.25">+H</tspan><tspan dy="2.25" font-size="4.95">2</tspan></text>
<text transform="translate(184.84 118.00) scale(0.9500 1)" font-size="9.0" fill="#fff" stroke="#fff" stroke-width="0" xml:space="preserve">0.15%</text>
<text transform="translate(229.99 118.00) scale(0.9500 1)" font-size="9.0" fill="#fff" stroke="#fff" stroke-width="0" xml:space="preserve">0.19%</text>
<text transform="translate(0.80 115.65) scale(0.9620 1)" font-size="7.5" fill="#000" stroke="#000" stroke-width="0.13" xml:space="preserve">CH<tspan dy="2.25" font-size="4.95">4</tspan><tspan dy="-2.25">+N</tspan><tspan dy="2.25" font-size="4.95">2</tspan><tspan dy="-2.25"> (a'</tspan><tspan dy="-2.48" font-size="4.95">1</tspan><tspan dy="2.48">Σ</tspan><tspan dy="2.25" font-size="3.90">u</tspan><tspan dx="-1.87" dy="-5.62" font-size="3.90">-</tspan><tspan dy="3.38"> )=&gt;N</tspan><tspan dy="2.25" font-size="4.95">2</tspan><tspan dy="-2.25">+C+H</tspan><tspan dy="2.25" font-size="4.95">2</tspan><tspan dy="-2.25">+H</tspan><tspan dy="2.25" font-size="4.95">2</tspan></text>
<text transform="translate(183.04 134.91) scale(0.9500 1)" font-size="9.0" fill="#fff" stroke="#fff" stroke-width="0" xml:space="preserve">0.20%</text>
<text transform="translate(224.19 134.91) scale(0.9500 1)" font-size="9.0" fill="#fff" stroke="#fff" stroke-width="0" xml:space="preserve">0.06%</text>
<text transform="translate(32.90 132.56) scale(0.8998 1)" font-size="7.5" fill="#000" stroke="#000" stroke-width="0.13" xml:space="preserve">CH<tspan dy="2.25" font-size="4.95">4</tspan><tspan dy="-2.25">+CN=&gt;CH</tspan><tspan dy="2.25" font-size="4.95">3</tspan><tspan dy="-2.25">+HCN</tspan></text>
<text transform="translate(180.04 151.82) scale(0.9500 1)" font-size="9.0" fill="#fff" stroke="#fff" stroke-width="0" xml:space="preserve">0.38%</text>
<text transform="translate(22.50 149.47) scale(0.9145 1)" font-size="7.5" fill="#000" stroke="#000" stroke-width="0.13" xml:space="preserve">CH<tspan dy="2.25" font-size="4.95">4</tspan><tspan dy="-2.25">+C</tspan><tspan dy="2.25" font-size="4.95">2</tspan><tspan dy="-2.25">H</tspan><tspan dy="2.25" font-size="4.95">3</tspan><tspan dy="-2.25">&lt;=&gt;C</tspan><tspan dy="2.25" font-size="4.95">2</tspan><tspan dy="-2.25">H</tspan><tspan dy="2.25" font-size="4.95">4</tspan><tspan dy="-2.25">+CH</tspan><tspan dy="2.25" font-size="4.95">3</tspan></text>
<text transform="translate(179.04 168.73) scale(0.9500 1)" font-size="9.0" fill="#fff" stroke="#fff" stroke-width="0" xml:space="preserve">0.47%</text>
<text transform="translate(228.59 168.73) scale(0.9500 1)" font-size="9.0" fill="#fff" stroke="#fff" stroke-width="0" xml:space="preserve">0.14%</text>
<text transform="translate(6.90 166.38) scale(0.9573 1)" font-size="7.5" fill="#000" stroke="#000" stroke-width="0.13" xml:space="preserve">CH<tspan dy="2.25" font-size="4.95">4</tspan><tspan dy="-2.25">+ N</tspan><tspan dy="2.25" font-size="4.95">2</tspan><tspan dy="-2.25"> (A</tspan><tspan dy="-2.48" font-size="4.95">3</tspan><tspan dy="2.48">Σ</tspan><tspan dy="2.25" font-size="3.90">u</tspan><tspan dx="-1.87" dy="-5.62" font-size="3.90">-</tspan><tspan dy="3.38"> )=&gt;N</tspan><tspan dy="2.25" font-size="4.95">2</tspan><tspan dy="-2.25">+CH</tspan><tspan dy="2.25" font-size="4.95">3</tspan><tspan dy="-2.25">+H</tspan></text>
<text transform="translate(177.49 185.64) scale(0.9500 1)" font-size="9.0" fill="#fff" stroke="#fff" stroke-width="0" xml:space="preserve">0.63%</text>
<text transform="translate(231.79 185.64) scale(0.9500 1)" font-size="9.0" fill="#fff" stroke="#fff" stroke-width="0" xml:space="preserve">0.27%</text>
<text transform="translate(33.70 183.29) scale(0.9184 1)" font-size="7.5" fill="#000" stroke="#000" stroke-width="0.13" xml:space="preserve">CH<tspan dy="2.25" font-size="4.95">4</tspan><tspan dy="-2.25">+CH</tspan><tspan dy="2.25" font-size="4.95">3</tspan><tspan dy="-2.25">=&gt;C</tspan><tspan dy="2.25" font-size="4.95">2</tspan><tspan dy="-2.25">H</tspan><tspan dy="2.25" font-size="4.95">5</tspan><tspan dy="-2.25">+H</tspan><tspan dy="2.25" font-size="4.95">2</tspan></text>
<text transform="translate(160.56 202.55) scale(0.9500 1)" font-size="9.0" fill="#fff" stroke="#fff" stroke-width="0" xml:space="preserve">12.17%</text>
<text transform="translate(235.49 202.55) scale(0.9500 1)" font-size="9.0" fill="#fff" stroke="#fff" stroke-width="0" xml:space="preserve">0.57%</text>
<text transform="translate(39.80 200.20) scale(0.9058 1)" font-size="7.5" fill="#000" stroke="#000" stroke-width="0.13" xml:space="preserve">CH<tspan dy="2.25" font-size="4.95">4</tspan><tspan dy="-2.25">+CH=&gt;C</tspan><tspan dy="2.25" font-size="4.95">2</tspan><tspan dy="-2.25">H</tspan><tspan dy="2.25" font-size="4.95">4</tspan><tspan dy="-2.25">+H</tspan></text>
<text transform="translate(150.86 219.46) scale(0.9500 1)" font-size="9.0" fill="#fff" stroke="#fff" stroke-width="0" xml:space="preserve">85.16%</text>
<text transform="translate(258.66 219.46) scale(0.9500 1)" font-size="9.0" fill="#fff" stroke="#fff" stroke-width="0" xml:space="preserve">97.76%</text>
<text transform="translate(39.80 217.11) scale(0.9170 1)" font-size="7.5" fill="#000" stroke="#000" stroke-width="0.13" xml:space="preserve">CH<tspan dy="2.25" font-size="4.95">4</tspan><tspan dy="-2.25">+H&lt;=&gt;CH</tspan><tspan dy="2.25" font-size="4.95">3</tspan><tspan dy="-2.25">+H</tspan><tspan dy="2.25" font-size="4.95">2</tspan></text>
<text transform="translate(98.01 238.80) scale(0.9300 1)" font-size="9.5" fill="#000" stroke="#000" stroke-width="0.1" xml:space="preserve">10<tspan dy="-4.46" font-size="5.89">1</tspan></text>
<text transform="translate(120.45 238.80) scale(0.9300 1)" font-size="9.5" fill="#000" stroke="#000" stroke-width="0.1" xml:space="preserve">10<tspan dy="-4.46" font-size="5.89">0</tspan></text>
<text transform="translate(142.65 238.80) scale(0.9300 1)" font-size="9.5" fill="#000" stroke="#000" stroke-width="0.1" xml:space="preserve">10<tspan dy="-4.46" font-size="5.89">-1</tspan></text>
<text transform="translate(165.42 238.80) scale(0.9300 1)" font-size="9.5" fill="#000" stroke="#000" stroke-width="0.1" xml:space="preserve">10<tspan dy="-4.46" font-size="5.89">-2</tspan></text>
<text transform="translate(187.86 238.80) scale(0.9300 1)" font-size="9.5" fill="#000" stroke="#000" stroke-width="0.1" xml:space="preserve">10<tspan dy="-4.46" font-size="5.89">-3</tspan></text>
<text transform="translate(210.64 238.80) scale(0.9300 1)" font-size="9.5" fill="#000" stroke="#000" stroke-width="0.1" xml:space="preserve">10<tspan dy="-4.46" font-size="5.89">-4</tspan></text>
<text transform="translate(233.41 238.80) scale(0.9300 1)" font-size="9.5" fill="#000" stroke="#000" stroke-width="0.1" xml:space="preserve">10<tspan dy="-4.46" font-size="5.89">-3</tspan></text>
<text transform="translate(256.52 238.80) scale(0.9300 1)" font-size="9.5" fill="#000" stroke="#000" stroke-width="0.1" xml:space="preserve">10<tspan dy="-4.46" font-size="5.89">-2</tspan></text>
<text transform="translate(279.30 238.80) scale(0.9300 1)" font-size="9.5" fill="#000" stroke="#000" stroke-width="0.1" xml:space="preserve">10<tspan dy="-4.46" font-size="5.89">-1</tspan></text>
<text transform="translate(302.65 238.80) scale(0.9300 1)" font-size="9.5" fill="#000" stroke="#000" stroke-width="0.1" xml:space="preserve">10<tspan dy="-4.46" font-size="5.89">0</tspan></text>
<text transform="translate(325.76 238.80) scale(0.9300 1)" font-size="9.5" fill="#000" stroke="#000" stroke-width="0.1" xml:space="preserve">10<tspan dy="-4.46" font-size="5.89">1</tspan></text>
<text transform="translate(150.00 7.50) scale(1.0784 1)" font-size="8.4" fill="#1515ff" stroke="#1515ff" stroke-width="0" xml:space="preserve">Transitional</text>
<text transform="translate(248.00 7.50) scale(1.0576 1)" font-size="8.4" fill="#ff2020" stroke="#ff2020" stroke-width="0" xml:space="preserve">Turbulent</text>
<text transform="translate(146.90 258.20) scale(0.9195 1)" font-size="9.6" fill="#000" stroke="#000" stroke-width="0.2" xml:space="preserve">CH<tspan dy="2.30" font-size="6.34">4</tspan><tspan dy="-2.30"> consumption rate (×10</tspan><tspan dy="-3.46" font-size="6.34">21</tspan><tspan dy="3.46"> cm</tspan><tspan dy="-3.46" font-size="6.34">-3</tspan><tspan dy="3.46">s</tspan><tspan dy="-3.46" font-size="6.34">-1</tspan><tspan dy="3.46">)</tspan></text>
<text transform="translate(8.60 256.80) scale(0.9124 1)" font-size="12.2" fill="#000" stroke="#000" stroke-width="0.1" xml:space="preserve">(a)</text>
<text transform="translate(617.12 33.79) scale(0.9300 1)" font-size="9.2" fill="#fff" stroke="#fff" stroke-width="0" xml:space="preserve">148</text>
<text transform="translate(392.70 31.74) scale(0.9896 1)" font-size="8.3" fill="#000" stroke="#000" stroke-width="0.13" xml:space="preserve">CH<tspan dy="2.49" font-size="5.48">4</tspan><tspan dy="-2.49">+e=H</tspan><tspan dy="2.49" font-size="5.48">2</tspan><tspan dy="-2.49">+CH</tspan><tspan dy="2.49" font-size="5.48">2</tspan><tspan dy="-2.49">+e</tspan></text>
<text transform="translate(613.97 51.12) scale(0.9300 1)" font-size="9.2" fill="#fff" stroke="#fff" stroke-width="0" xml:space="preserve">139</text>
<text transform="translate(396.10 49.07) scale(0.9836 1)" font-size="8.3" fill="#000" stroke="#000" stroke-width="0.13" xml:space="preserve">CH<tspan dy="2.49" font-size="5.48">4</tspan><tspan dy="-2.49">+e=H+CH</tspan><tspan dy="2.49" font-size="5.48">3</tspan><tspan dy="-2.49">+e</tspan></text>
<text transform="translate(602.08 68.45) scale(0.9300 1)" font-size="9.2" fill="#fff" stroke="#fff" stroke-width="0" xml:space="preserve">105</text>
<text transform="translate(365.20 66.40) scale(1.0288 1)" font-size="8.3" fill="#000" stroke="#000" stroke-width="0.13" xml:space="preserve">CH<tspan dy="2.49" font-size="5.48">4</tspan><tspan dy="-2.49">+N</tspan><tspan dy="2.49" font-size="5.48">2</tspan><tspan dy="-2.49"> (a'</tspan><tspan dy="-2.74" font-size="5.48">1</tspan><tspan dy="2.74">Σ</tspan><tspan dy="2.49" font-size="4.32">u</tspan><tspan dx="-2.07" dy="-6.23" font-size="4.32">-</tspan><tspan dy="3.74"> )=&gt;N</tspan><tspan dy="2.49" font-size="5.48">2</tspan><tspan dy="-2.49">+CH</tspan><tspan dy="2.49" font-size="5.48">4</tspan></text>
<text transform="translate(602.08 85.78) scale(0.9300 1)" font-size="9.2" fill="#fff" stroke="#fff" stroke-width="0" xml:space="preserve">105</text>
<text transform="translate(354.40 83.73) scale(1.0253 1)" font-size="8.3" fill="#000" stroke="#000" stroke-width="0.13" xml:space="preserve">CH<tspan dy="2.49" font-size="5.48">4</tspan><tspan dy="-2.49">+N</tspan><tspan dy="2.49" font-size="5.48">2</tspan><tspan dy="-2.49"> (a'</tspan><tspan dy="-2.74" font-size="5.48">1</tspan><tspan dy="2.74">Σ</tspan><tspan dy="2.49" font-size="4.32">u</tspan><tspan dx="-2.07" dy="-6.23" font-size="4.32">-</tspan><tspan dy="3.74"> )=&gt;N</tspan><tspan dy="2.49" font-size="5.48">2</tspan><tspan dy="-2.49">+CH</tspan><tspan dy="2.49" font-size="5.48">3</tspan><tspan dy="-2.49">+H</tspan></text>
<text transform="translate(602.08 103.11) scale(0.9300 1)" font-size="9.2" fill="#fff" stroke="#fff" stroke-width="0" xml:space="preserve">105</text>
<text transform="translate(350.60 101.06) scale(1.0317 1)" font-size="8.3" fill="#000" stroke="#000" stroke-width="0.13" xml:space="preserve">CH<tspan dy="2.49" font-size="5.48">4</tspan><tspan dy="-2.49">+N</tspan><tspan dy="2.49" font-size="5.48">2</tspan><tspan dy="-2.49"> (a'</tspan><tspan dy="-2.74" font-size="5.48">1</tspan><tspan dy="2.74">Σ</tspan><tspan dy="2.49" font-size="4.32">u</tspan><tspan dx="-2.07" dy="-6.23" font-size="4.32">-</tspan><tspan dy="3.74"> )=&gt;N</tspan><tspan dy="2.49" font-size="5.48">2</tspan><tspan dy="-2.49">+CH</tspan><tspan dy="2.49" font-size="5.48">2</tspan><tspan dy="-2.49">+H</tspan><tspan dy="2.49" font-size="5.48">2</tspan></text>
<text transform="translate(602.08 120.44) scale(0.9300 1)" font-size="9.2" fill="#fff" stroke="#fff" stroke-width="0" xml:space="preserve">105</text>
<text transform="translate(345.80 118.39) scale(1.0299 1)" font-size="8.3" fill="#000" stroke="#000" stroke-width="0.13" xml:space="preserve">CH<tspan dy="2.49" font-size="5.48">4</tspan><tspan dy="-2.49">+N</tspan><tspan dy="2.49" font-size="5.48">2</tspan><tspan dy="-2.49"> (a'</tspan><tspan dy="-2.74" font-size="5.48">1</tspan><tspan dy="2.74">Σ</tspan><tspan dy="2.49" font-size="4.32">u</tspan><tspan dx="-2.07" dy="-6.23" font-size="4.32">-</tspan><tspan dy="3.74"> )=&gt;N</tspan><tspan dy="2.49" font-size="5.48">2</tspan><tspan dy="-2.49">+C+H</tspan><tspan dy="2.49" font-size="5.48">2</tspan><tspan dy="-2.49">+H</tspan><tspan dy="2.49" font-size="5.48">2</tspan></text>
<text transform="translate(546.39 137.77) scale(0.9300 1)" font-size="9.2" fill="#fff" stroke="#fff" stroke-width="0" xml:space="preserve">-57</text>
<text transform="translate(382.80 135.72) scale(0.9733 1)" font-size="8.3" fill="#000" stroke="#000" stroke-width="0.13" xml:space="preserve">CH<tspan dy="2.49" font-size="5.48">4</tspan><tspan dy="-2.49">+CN=&gt;CH</tspan><tspan dy="2.49" font-size="5.48">3</tspan><tspan dy="-2.49">+HCN</tspan></text>
<text transform="translate(370.90 153.05) scale(0.9858 1)" font-size="8.3" fill="#000" stroke="#000" stroke-width="0.13" xml:space="preserve">CH<tspan dy="2.49" font-size="5.48">4</tspan><tspan dy="-2.49">+C</tspan><tspan dy="2.49" font-size="5.48">2</tspan><tspan dy="-2.49">H</tspan><tspan dy="2.49" font-size="5.48">3</tspan><tspan dy="-2.49">&lt;=&gt;C</tspan><tspan dy="2.49" font-size="5.48">2</tspan><tspan dy="-2.49">H</tspan><tspan dy="2.49" font-size="5.48">4</tspan><tspan dy="-2.49">+CH</tspan><tspan dy="2.49" font-size="5.48">3</tspan></text>
<text transform="translate(547.09 172.43) scale(0.9300 1)" font-size="9.2" fill="#fff" stroke="#fff" stroke-width="0" xml:space="preserve">-55</text>
<text transform="translate(353.40 170.38) scale(1.0188 1)" font-size="8.3" fill="#000" stroke="#000" stroke-width="0.13" xml:space="preserve">CH<tspan dy="2.49" font-size="5.48">4</tspan><tspan dy="-2.49">+ N</tspan><tspan dy="2.49" font-size="5.48">2</tspan><tspan dy="-2.49"> (A</tspan><tspan dy="-2.74" font-size="5.48">3</tspan><tspan dy="2.74">Σ</tspan><tspan dy="2.49" font-size="4.32">u</tspan><tspan dx="-2.07" dy="-6.23" font-size="4.32">-</tspan><tspan dy="3.74"> )=&gt;N</tspan><tspan dy="2.49" font-size="5.48">2</tspan><tspan dy="-2.49">+CH</tspan><tspan dy="2.49" font-size="5.48">3</tspan><tspan dy="-2.49">+H</tspan></text>
<text transform="translate(554.44 189.76) scale(0.9300 1)" font-size="9.2" fill="#fff" stroke="#fff" stroke-width="0" xml:space="preserve">-34</text>
<text transform="translate(384.70 187.71) scale(0.9844 1)" font-size="8.3" fill="#000" stroke="#000" stroke-width="0.13" xml:space="preserve">CH<tspan dy="2.49" font-size="5.48">4</tspan><tspan dy="-2.49">+CH</tspan><tspan dy="2.49" font-size="5.48">3</tspan><tspan dy="-2.49">=&gt;C</tspan><tspan dy="2.49" font-size="5.48">2</tspan><tspan dy="-2.49">H</tspan><tspan dy="2.49" font-size="5.48">5</tspan><tspan dy="-2.49">+H</tspan><tspan dy="2.49" font-size="5.48">2</tspan></text>
<text transform="translate(533.81 207.09) scale(0.9300 1)" font-size="9.2" fill="#fff" stroke="#fff" stroke-width="0" xml:space="preserve">-93</text>
<text transform="translate(390.80 205.04) scale(0.9832 1)" font-size="8.3" fill="#000" stroke="#000" stroke-width="0.13" xml:space="preserve">CH<tspan dy="2.49" font-size="5.48">4</tspan><tspan dy="-2.49">+CH=&gt;C</tspan><tspan dy="2.49" font-size="5.48">2</tspan><tspan dy="-2.49">H</tspan><tspan dy="2.49" font-size="5.48">4</tspan><tspan dy="-2.49">+H</tspan></text>
<text transform="translate(595.71 224.42) scale(0.9300 1)" font-size="9.2" fill="#fff" stroke="#fff" stroke-width="0" xml:space="preserve">80</text>
<text transform="translate(391.40 222.37) scale(0.9909 1)" font-size="8.3" fill="#000" stroke="#000" stroke-width="0.13" xml:space="preserve">CH<tspan dy="2.49" font-size="5.48">4</tspan><tspan dy="-2.49">+H&lt;=&gt;CH</tspan><tspan dy="2.49" font-size="5.48">3</tspan><tspan dy="-2.49">+H</tspan><tspan dy="2.49" font-size="5.48">2</tspan></text>
<text transform="translate(459.17 243.60) scale(0.9300 1)" font-size="8.2" fill="#000" stroke="#000" stroke-width="0.1" xml:space="preserve">-150</text>
<text transform="translate(494.14 243.60) scale(0.9300 1)" font-size="8.2" fill="#000" stroke="#000" stroke-width="0.1" xml:space="preserve">-100</text>
<text transform="translate(531.22 243.60) scale(0.9300 1)" font-size="8.2" fill="#000" stroke="#000" stroke-width="0.1" xml:space="preserve">-50</text>
<text transform="translate(570.17 243.60) scale(0.9300 1)" font-size="8.2" fill="#000" stroke="#000" stroke-width="0.1" xml:space="preserve">0</text>
<text transform="translate(603.02 243.60) scale(0.9300 1)" font-size="8.2" fill="#000" stroke="#000" stroke-width="0.1" xml:space="preserve">50</text>
<text transform="translate(635.87 243.60) scale(0.9300 1)" font-size="8.2" fill="#000" stroke="#000" stroke-width="0.1" xml:space="preserve">100</text>
<text transform="translate(670.84 243.60) scale(0.9300 1)" font-size="8.2" fill="#000" stroke="#000" stroke-width="0.1" xml:space="preserve">150</text>
<text transform="translate(535.80 258.40) scale(0.8731 1)" font-size="9.8" fill="#000" stroke="#000" stroke-width="0.22" xml:space="preserve">Change in rate (%)</text>
<text transform="translate(461.12 271.30) scale(0.9232 1)" font-size="9.8" fill="#000" stroke="#000" stroke-width="0.22" xml:space="preserve">when flow regime changed from transitional to turbulent</text>
<text transform="translate(355.60 257.00) scale(1.0007 1)" font-size="11.8" fill="#000" stroke="#000" stroke-width="0.1" xml:space="preserve">(b)</text>
</svg>
</body></html>
